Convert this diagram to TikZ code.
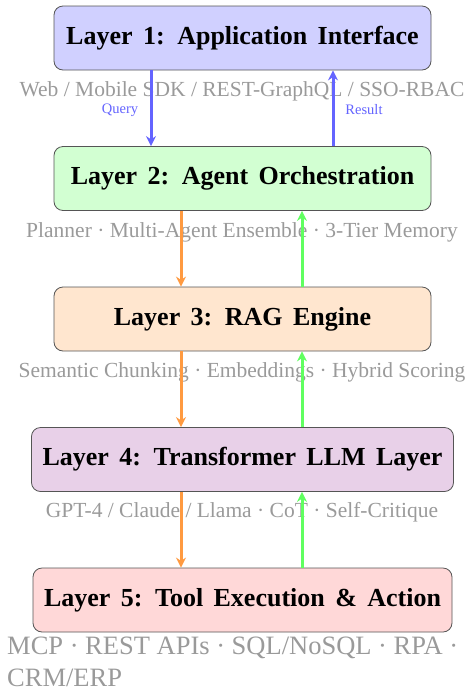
\documentclass[tikz,border=0pt]{standalone}
\usepackage{fontspec}
\setmainfont{Liberation Serif}
\usetikzlibrary{arrows.meta}
\definecolor{bxA}{HTML}{D0D0FF}
\definecolor{bxB}{HTML}{D2FFD2}
\definecolor{bxC}{HTML}{FFE6CF}
\definecolor{bxD}{HTML}{E8D0E8}
\definecolor{bxE}{HTML}{FFD8D8}
\definecolor{bordc}{HTML}{555555}
\definecolor{subc}{HTML}{9A9A9A}
\definecolor{bluec}{HTML}{6464FF}
\definecolor{orangec}{HTML}{FF9A40}
\definecolor{greenc}{HTML}{60FF60}
\newcommand\mytitlefont{\fontsize{26}{30}\selectfont\bfseries\spaceskip=0.4em\relax}
\tikzset{
  layerbox/.style={draw=bordc, line width=0.8pt, rounded corners=9pt, inner sep=0pt,
    font=\mytitlefont, text=black},
  subtxt/.style={text=subc, inner sep=0pt, font=\fontsize{21.5}{25}\selectfont},
  flowlbl/.style={text=bluec, inner sep=0pt, font=\fontsize{14.5}{17}\selectfont},
  flow/.style={line width=3pt, -{Stealth[length=10pt,width=10pt]}},
}
\begin{document}
\begin{tikzpicture}[x=1pt,y=-1pt]
\useasboundingbox (0,0) rectangle (467,694);
\node[layerbox, fill=bxA, minimum width=377pt, minimum height=64pt] (l1) at (242.5,38) {Layer 1: Application Interface};
\node[layerbox, fill=bxB, minimum width=377pt, minimum height=64pt] (l2) at (242.5,178.5) {Layer 2: Agent Orchestration};
\node[layerbox, fill=bxC, minimum width=377pt, minimum height=64pt] (l3) at (242.5,319) {Layer 3: RAG Engine};
\node[layerbox, fill=bxD, minimum width=422pt, minimum height=64pt] (l4) at (242.5,459.5) {Layer 4: Transformer LLM Layer};
\node[layerbox, fill=bxE, minimum width=419pt, minimum height=64pt] (l5) at (242.5,600) {Layer 5: Tool Execution \& Action};

\node[subtxt] (s1) at (242,91) {Web / Mobile SDK / REST-GraphQL / SSO-RBAC};
\node[subtxt] (s2) at (242,232.5) {Planner · Multi-Agent Ensemble · 3-Tier Memory};
\node[subtxt] (s3) at (242,372.5) {Semantic Chunking · Embeddings · Hybrid Scoring};
\node[subtxt] (s4) at (242,512.5) {GPT-4 / Claude / Llama · CoT · Self-Critique};
\node[subtxt, font=\fontsize{26.5}{32}\selectfont, align=left, anchor=north west] (s5) at (7,637) {MCP · REST APIs · SQL/NoSQL · RPA ·\\CRM/ERP};

\coordinate (qa) at (151,0);
\coordinate (ra) at (333,0);
\coordinate (oa) at (181,0);
\coordinate (ga) at (302,0);

\draw[flow, bluec] (l1.south -| qa) -- (l2.north -| qa);
\draw[flow, bluec] (l2.north -| ra) -- (l1.south -| ra);
\node[flowlbl] (ql) at (120,110) {Query};
\node[flowlbl] (rl) at (364,110) {Result};

\draw[flow, orangec] (l2.south -| oa) -- (l3.north -| oa);
\draw[flow, orangec] (l3.south -| oa) -- (l4.north -| oa);
\draw[flow, orangec] (l4.south -| oa) -- (l5.north -| oa);
\draw[flow, greenc] (l3.north -| ga) -- (l2.south -| ga);
\draw[flow, greenc] (l4.north -| ga) -- (l3.south -| ga);
\draw[flow, greenc] (l5.north -| ga) -- (l4.south -| ga);
\end{tikzpicture}
\end{document}
